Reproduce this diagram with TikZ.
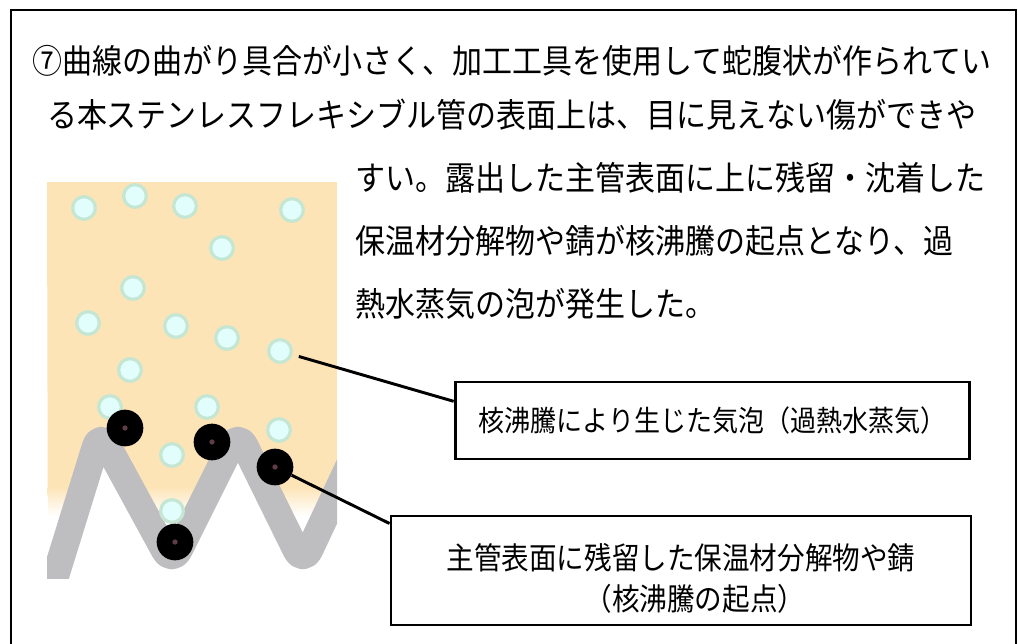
\documentclass[tikz,border=0pt]{standalone}
\usepackage{fontspec}
\newfontfamily\jpfont[FakeStretch=0.9]{Noto Sans CJK JP}
\usetikzlibrary{positioning, calc}
\definecolor{peach}{RGB}{253,228,183}
\definecolor{pipegray}{RGB}{190,190,193}
\definecolor{bubblefill}{RGB}{226,254,252}
\definecolor{bubblerim}{RGB}{196,230,210}
\definecolor{rustcore}{RGB}{95,60,72}
\tikzstyle{textline} = [font=\jpfont\fontsize{25}{30}\selectfont, inner sep=0pt]
\tikzstyle{note} = [draw, line width=2.2pt, align=center]
\tikzstyle{bubble} = [circle, fill=bubblefill, draw=bubblerim, line width=2.4pt, minimum size=17pt, inner sep=0pt]
\tikzstyle{rust} = [circle, fill=black, minimum size=27.5pt, inner sep=0pt,
  path picture={\fill[rustcore] (path picture bounding box.center) circle (2pt);}]
\tikzstyle{pipe} = [line width=20.5pt, pipegray, rounded corners=12pt, line join=round]
\tikzstyle{leader} = [line width=2.2pt]
\newcommand{\notestrut}{\rule{0pt}{31pt}}

\begin{document}
\begin{tikzpicture}[x=0.75pt, y=-0.75pt]
	\useasboundingbox (0,0) rectangle (1018,643);
	\draw[line width=2.2pt] (11,660) -- (11,10) -- (1016,10) -- (1016,660);

	\node[textline] (l1) at (512,61) {⑦曲線の曲がり具合が小さく、加工工具を使用して蛇腹状が作られてい};
	\node[textline, below=40.5pt of l1.base, anchor=base] (l2) {る本ステンレスフレキシブル管の表面上は、目に見えない傷ができや};
	\node[textline, anchor=west] (l3) at (355,178) {すい。露出した主管表面に上に残留・沈着した};
	\node[textline, below=47.25pt of l3.base west, anchor=base west] (l4) {保温材分解物や錆が核沸騰の起点となり、過};
	\node[textline, below=47.25pt of l4.base west, anchor=base west] (l5) {熱水蒸気の泡が発生した。};

	% insulation side above the pipe wall
	\begin{scope}
		\clip (47,182) -- (337,182) -- (337,492) -- (303,564) -- (238,432) -- (172,564) -- (100,432) -- (48,600) -- cycle;
		\fill[peach] (47,182) rectangle (337,488);
		\shade[top color=peach, bottom color=white] (47,487) rectangle (337,516);
	\end{scope}

	% corrugated pipe wall
	\begin{scope}
		\clip (47,182) rectangle (337,578);
		\draw[pipe] (48,600) -- (100,432) -- (172,564) -- (238,432) -- (303,564) -- (365,432);
	\end{scope}

	\node[bubble] (b1) at (84,208) {};
	\node[bubble] (b2) at (135,196) {};
	\node[bubble] (b3) at (185,206) {};
	\node[bubble] (b4) at (292,210) {};
	\node[bubble] (b5) at (222,248) {};
	\node[bubble] (b6) at (133,288) {};
	\node[bubble] (b7) at (88,323) {};
	\node[bubble] (b8) at (176,326) {};
	\node[bubble] (b9) at (227,338) {};
	\node[bubble] (b10) at (280,351) {};
	\node[bubble] (b11) at (130,370) {};
	\node[bubble] (b12) at (110,407) {};
	\node[bubble] (b13) at (207,407) {};
	\node[bubble] (b14) at (279,430) {};
	\node[bubble] (b15) at (172,455) {};
	\node[bubble] (b16) at (172,511) {};

	\node[rust] (r1) at (125,428) {};
	\node[rust] (r2) at (212,442) {};
	\node[rust] (r3) at (275,467) {};
	\node[rust] (r4) at (175,542) {};

	\node[note, minimum width=386pt, minimum height=57.75pt,
	      font=\jpfont\fontsize{21.7}{26}\selectfont] (bubblenote) at (712.5,420.5)
	      {核沸騰により生じた気泡（過熱水蒸気）};
	\node[note, minimum width=435pt, minimum height=81.75pt,
	      font=\jpfont\fontsize{23}{30.75}\selectfont] (rustnote) at (681,570.5)
	      {\notestrut 主管表面に残留した保温材分解物や錆\\　（核沸騰の起点）};

	% now link the nodes
	\draw[leader, shorten <=5pt] (b10) -- ($(bubblenote.north west)!0.26!(bubblenote.south west)$);
	\draw[leader] (r3) -- ($(rustnote.north west)!0.08!(rustnote.south west)$);
\end{tikzpicture}
\end{document}
